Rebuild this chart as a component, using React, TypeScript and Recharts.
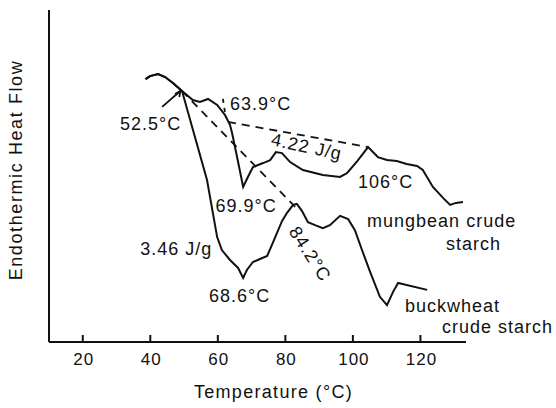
import React from 'react';
import { LineChart, Line, XAxis, YAxis, ReferenceDot, Label } from 'recharts';

const FONT = '"Liberation Sans", Arial, Helvetica, sans-serif';
const INK = '#111';

// Mungbean crude starch DSC trace (temperature °C, endothermic heat flow, arbitrary units)
const mungbeanTemp = [38.6, 39.9, 42.3, 44.4, 46.7, 49.4, 52.6, 54.7, 57.1, 59.8, 62.1, 63.6, 64.2, 65.7, 67.5, 68.9, 70.4, 73.4, 75.5, 77.2, 79.0, 81.4, 85.2, 91.1, 96.2, 98.3, 101.3, 104.5, 107.4, 110.1, 113.0, 115.9, 119.0, 120.7, 123.7, 126.7, 128.8, 130.5, 132.6];
const mungbeanFlow = [79.2, 80.1, 80.7, 79.8, 78.0, 75.6, 72.9, 72.3, 73.2, 71.4, 68.4, 65.4, 63.0, 55.7, 46.7, 49.7, 52.7, 53.9, 54.8, 57.2, 56.9, 54.2, 51.8, 50.3, 49.7, 50.9, 54.5, 58.7, 55.7, 54.8, 54.5, 53.6, 53.0, 51.8, 46.7, 43.4, 41.3, 41.9, 42.2];

// Buckwheat crude starch DSC trace
const buckwheatTemp = [38.6, 39.9, 42.3, 44.4, 46.7, 49.4, 56.8, 59.8, 61.2, 63.6, 66.0, 67.5, 68.6, 70.4, 72.5, 74.6, 76.0, 77.5, 79.0, 80.5, 82.3, 83.4, 84.9, 86.7, 88.8, 91.1, 93.2, 96.2, 98.6, 100.6, 102.7, 105.1, 108.0, 110.1, 111.9, 113.4, 122.0];
const buckwheatFlow = [79.2, 80.1, 80.7, 79.8, 78.0, 75.6, 48.8, 31.6, 27.7, 24.7, 22.3, 19.3, 21.7, 24.1, 25.0, 25.9, 29.2, 32.8, 36.4, 38.9, 41.3, 41.6, 39.5, 36.1, 35.2, 34.3, 35.2, 38.0, 37.0, 33.7, 27.7, 21.1, 13.6, 11.1, 15.1, 17.8, 15.7];

// Integration baselines (dashed)
const mungbeanBaseTemp = [63.0, 104.5];
const mungbeanBaseFlow = [66.3, 58.7];
const buckwheatBaseTemp = [49.4, 82.9];
const buckwheatBaseFlow = [75.6, 40.7];

// Leader for the 52.5 °C onset and 63.9 °C onset marks
const onsetLeaderTemp = [43.5, 48.9];
const onsetLeaderFlow = [70.8, 75.6];
const onsetArrowTemp = [47.3, 48.9, 48.6];
const onsetArrowFlow = [74.7, 75.6, 73.8];
const mungOnsetTemp = [61.5, 62.4];
const mungOnsetFlow = [73.2, 67.5];

const xTicks = [20, 40, 60, 80, 100, 120];

const annoText = ['52.5°C', '63.9°C', '4.22 J/g', '106°C', '69.9°C', '84.2°C', 'mungbean crude', 'starch', '3.46 J/g', '68.6°C', 'buckwheat', 'crude starch'];
const annoTemp = [31.0, 63.6, 75.5, 101.5, 59.3, 87.3, 104.2, 127.6, 37.0, 57.4, 115.4, 126.4];
const annoFlow = [63.9, 69.9, 59.3, 46.4, 39.2, 26.5, 34.6, 27.7, 26.2, 12.0, 9.0, 2.7];
const annoRot = [0, 0, 12, 0, 0, 57, 0, 0, 0, 0, 0, 0];

const toRows = (t: number[], v: number[]) => t.map((x, i) => ({ t: x, v: v[i] }));

const mungbean = toRows(mungbeanTemp, mungbeanFlow);
const buckwheat = toRows(buckwheatTemp, buckwheatFlow);
const mungBase = toRows(mungbeanBaseTemp, mungbeanBaseFlow);
const buckBase = toRows(buckwheatBaseTemp, buckwheatBaseFlow);
const onsetLeader = toRows(onsetLeaderTemp, onsetLeaderFlow);
const onsetArrow = toRows(onsetArrowTemp, onsetArrowFlow);
const mungOnset = toRows(mungOnsetTemp, mungOnsetFlow);

const TempTick = (props: any) => {
  const { x, y, payload } = props;
  return (
    <g>
      <line x1={x} y1={y} x2={x} y2={y - 7} stroke={INK} strokeWidth={2} />
      <text x={x + 1} y={y + 23} textAnchor="middle" fontSize={17} fontFamily={FONT} letterSpacing={1} fill={INK}>
        {payload.value}
      </text>
    </g>
  );
};

const makeAnno = (i: number) => (p: any) => {
  const { cx, cy } = p;
  const rot = annoRot[i];
  return (
    <text
      x={cx}
      y={cy}
      textAnchor={rot > 30 ? 'middle' : 'start'}
      dominantBaseline={rot > 30 ? 'central' : 'alphabetic'}
      transform={rot ? `rotate(${rot} ${cx} ${cy})` : undefined}
      fontSize={18}
      fontFamily={FONT}
      letterSpacing={1}
      fill={INK}
    >
      {annoText[i]}
    </text>
  );
};

export default function App() {
  return (
    <div style={{ position: 'absolute', left: 0, top: 0, width: 556, height: 408, background: '#fff' }}>
      <LineChart width={556} height={408} margin={{ top: 10, right: 90, left: 9, bottom: 26 }}>
        <XAxis
          dataKey="t"
          type="number"
          domain={[10, 133.5]}
          ticks={xTicks}
          allowDataOverflow
          height={40}
          tickSize={0}
          tickMargin={0}
          tickLine={false}
          axisLine={{ stroke: INK, strokeWidth: 2 }}
          tick={<TempTick />}
        >
          <Label
            content={(p: any) => {
              const vb = p.viewBox || { x: 49, y: 342, width: 417, height: 40 };
              return (
                <text x={vb.x + vb.width / 2 + 16} y={vb.y + 56} textAnchor="middle" fontSize={18} fontFamily={FONT} letterSpacing={1.3} fill={INK}>
                  Temperature (°C)
                </text>
              );
            }}
          />
        </XAxis>
        <YAxis
          type="number"
          domain={[0, 100]}
          width={40}
          tick={false}
          tickLine={false}
          axisLine={{ stroke: INK, strokeWidth: 2 }}
        >
          <Label
            content={(p: any) => {
              const vb = p.viewBox || { x: 9, y: 10, width: 40, height: 332 };
              const cx = vb.x + 13;
              const cy = vb.y + vb.height / 2 - 6;
              return (
                <text x={cx} y={cy} transform={`rotate(-90 ${cx} ${cy})`} textAnchor="middle" fontSize={18} fontFamily={FONT} letterSpacing={1.6} fill={INK}>
                  Endothermic Heat Flow
                </text>
              );
            }}
          />
        </YAxis>
        <Line data={mungbean} dataKey="v" type="linear" stroke={INK} strokeWidth={2} dot={false} isAnimationActive={false} />
        <Line data={buckwheat} dataKey="v" type="linear" stroke={INK} strokeWidth={2} dot={false} isAnimationActive={false} />
        <Line data={mungBase} dataKey="v" type="linear" stroke={INK} strokeWidth={1.8} strokeDasharray="8 6" dot={false} isAnimationActive={false} />
        <Line data={buckBase} dataKey="v" type="linear" stroke={INK} strokeWidth={1.8} strokeDasharray="8 6" dot={false} isAnimationActive={false} />
        <Line data={onsetLeader} dataKey="v" type="linear" stroke={INK} strokeWidth={1.8} dot={false} isAnimationActive={false} />
        <Line data={onsetArrow} dataKey="v" type="linear" stroke={INK} strokeWidth={1.8} dot={false} isAnimationActive={false} />
        <Line data={mungOnset} dataKey="v" type="linear" stroke={INK} strokeWidth={1.8} strokeDasharray="4 5" dot={false} isAnimationActive={false} />
        {annoText.map((_, i) => (
          <ReferenceDot key={i} x={annoTemp[i]} y={annoFlow[i]} r={0} ifOverflow="visible" shape={makeAnno(i)} />
        ))}
      </LineChart>
    </div>
  );
}
